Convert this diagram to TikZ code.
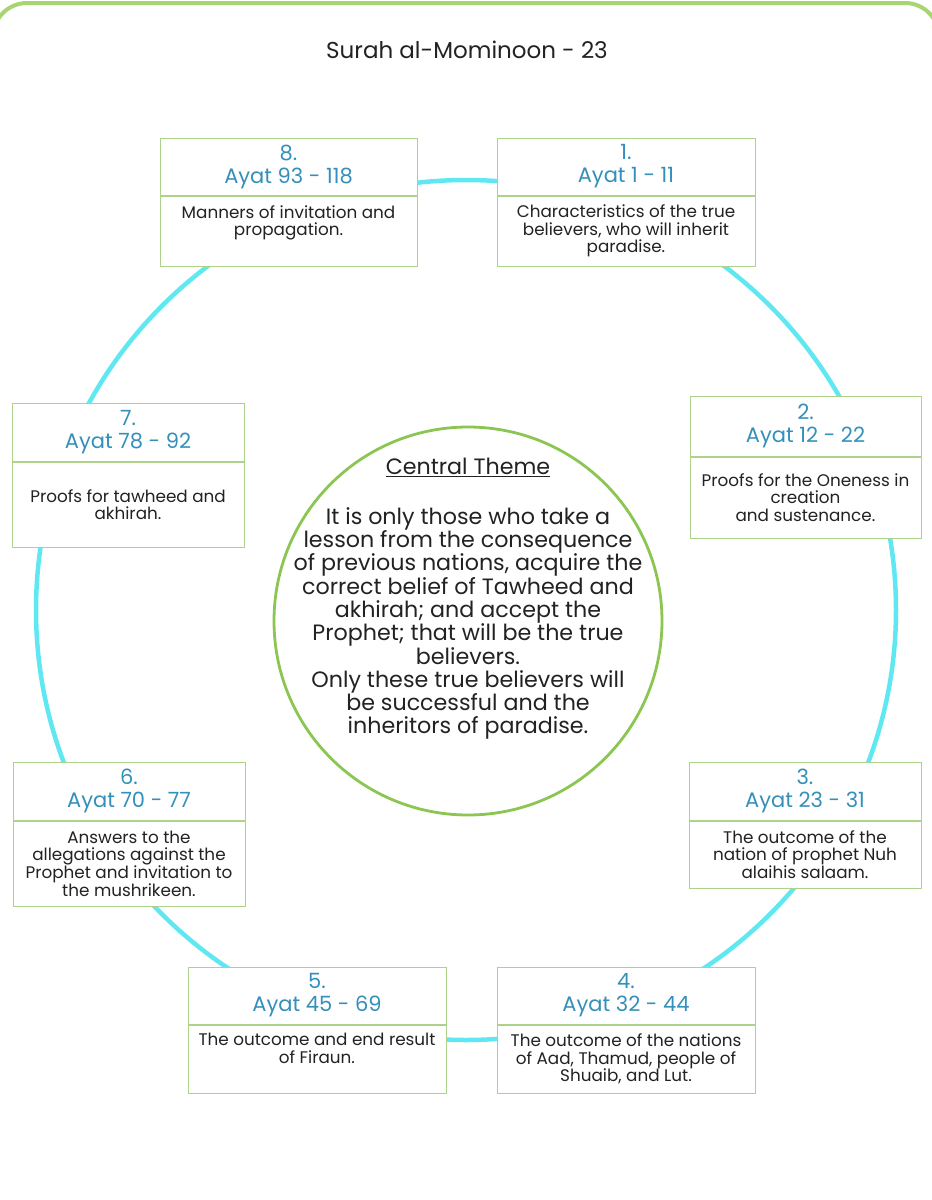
\documentclass[tikz,border=0pt]{standalone}
\usepackage{fontspec}
\setmainfont{Poppins}
\usetikzlibrary{positioning}

\definecolor{ringcyan}{RGB}{96,232,242}
\definecolor{framegreen}{RGB}{166,214,112}
\definecolor{boxgreen}{RGB}{172,210,140}
\definecolor{themegreen}{RGB}{140,198,82}
\definecolor{ayatblue}{RGB}{52,144,186}
\definecolor{txtgray}{RGB}{34,34,34}

\begin{document}
\begin{tikzpicture}[x=1pt,y=-1pt,
    head/.style={draw=boxgreen,fill=white,line width=1pt,text=ayatblue,
        align=center,font={\fontsize{21}{23}\selectfont}},
    body/.style={draw=boxgreen,fill=white,line width=1pt,text=txtgray,
        align=center,anchor=north,font={\fontsize{16.8}{17.6}\selectfont}},
    ring/.style={draw=ringcyan,line width=4.5pt},
    theme/.style={circle,draw=themegreen,line width=2.8pt,fill=white,
        minimum size=388pt}]

\useasboundingbox (0,0) rectangle (932,1200);
\begin{scope}
\clip (0,0) rectangle (932,1200);
\draw[framegreen,line width=4pt,rounded corners=34pt] (-7,3) rectangle (939,1320);
\end{scope}

\node[text=txtgray,font={\fontsize{23}{26}\selectfont}] (title) at (467,50) {Surah al-Mominoon - 23};

% the ring behind the boxes
\coordinate (ringc) at (466,610);
\draw[ring] (ringc) circle (430);

% central theme
\node[theme] (theme) at (468,621) {};
\node[anchor=north,align=center,text=txtgray,font={\fontsize{22.2}{23.3}\selectfont}] (themetxt) at (468,455)
    {\underline{Central Theme}\\[26pt]
     It is only those who take a\\lesson from the consequence\\of previous nations, acquire the\\correct belief of Tawheed and\\akhirah; and accept the\\Prophet; that will be the true\\believers.\\Only these true believers will\\be successful and the\\inheritors of paradise.};

% boxes
\node[head,minimum width=258,minimum height=57] (h1) at (626,166.5) {1.\\Ayat 1 - 11};
\node[body,minimum width=258,minimum height=70] (b1) at (h1.south) {Characteristics of the true\\believers, who will inherit\\paradise.};

\node[head,minimum width=231,minimum height=60] (h2) at (805.5,426) {2.\\Ayat 12 - 22};
\node[body,minimum width=231,minimum height=81] (b2) at (h2.south) {Proofs for the Oneness in\\creation\\and sustenance.};

\node[head,minimum width=232,minimum height=58] (h3) at (805,791) {3.\\Ayat 23 - 31};
\node[body,minimum width=232,minimum height=67] (b3) at (h3.south) {The outcome of the\\nation of prophet Nuh\\alaihis salaam.};

\node[head,minimum width=258,minimum height=57] (h4) at (626,995.5) {4.\\Ayat 32 - 44};
\node[body,minimum width=258,minimum height=68] (b4) at (h4.south) {The outcome of the nations\\of Aad, Thamud, people of\\Shuaib, and Lut.};

\node[head,minimum width=258,minimum height=57] (h5) at (317,995.5) {5.\\Ayat 45 - 69};
\node[body,minimum width=258,minimum height=68,text depth=21pt] (b5) at (h5.south) {The outcome and end result\\of Firaun.};

\node[head,minimum width=232,minimum height=58] (h6) at (129,791) {6.\\Ayat 70 - 77};
\node[body,minimum width=232,minimum height=85] (b6) at (h6.south) {Answers to the\\allegations against the\\Prophet and invitation to\\the mushrikeen.};

\node[head,minimum width=232,minimum height=58] (h7) at (128,432) {7.\\Ayat 78 - 92};
\node[body,minimum width=232,minimum height=85] (b7) at (h7.south) {Proofs for tawheed and\\akhirah.};

\node[head,minimum width=257,minimum height=57] (h8) at (288.5,166.5) {8.\\Ayat 93 - 118};
\node[body,minimum width=257,minimum height=70,text depth=21pt] (b8) at (h8.south) {Manners of invitation and\\propagation.};

\end{tikzpicture}
\end{document}
